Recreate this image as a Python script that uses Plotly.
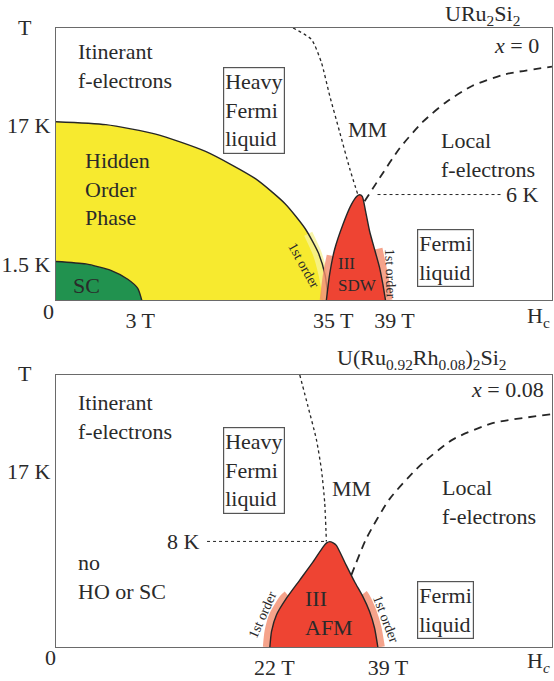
import plotly.graph_objects as go

# schematic phase diagrams, coordinates in arbitrary field / temperature units
X_MAX, Y_MAX = 497.5, 274.5

# ---- x = 0 : URu2Si2 ----
ho_x = [0, 50, 100, 150, 200, 230, 250, 263, 270, 273]
ho_y = [180, 177, 167.5, 150, 122.5, 97, 72, 48, 25, 0]
ho_band_x = [253, 262, 268, 272.5]
ho_band_y = [67, 47, 25, 0]

sc_x = [0, 30, 55, 72, 82, 86]
sc_y = [39, 36.5, 30, 21, 11.8, 0]

sdw_x = [271.2, 274.5, 279.5, 287.8, 296.2, 301.8, 304.5, 307.2, 310.5, 314.5, 319.5, 324.5, 327.8, 330.5]
sdw_y = [0, 26.3, 51.3, 76.3, 96.3, 104.7, 106.3, 104.7, 89.7, 69.7, 51.3, 33, 16.3, 0]
sdw_band_l_x = [268.5, 271.8, 275.5]
sdw_band_l_y = [0, 26, 45]
sdw_band_r_x = [333.5, 330.8, 327.5, 323.5]
sdw_band_r_y = [0, 16, 33, 52]

mm_x = [237.8, 256.2, 266.2, 274.5, 284.5, 294.5, 302.8]
mm_y = [274.5, 263, 239.7, 206.3, 169.7, 133, 106.3]

fl_x = [309.5, 324.5, 344.5, 367.8, 391.2, 417.8, 451.2, 497.5]
fl_y = [99.7, 123, 153, 179.7, 199.7, 216.3, 228, 235.5]

t6_x = [322.5, 446.5]
t6_y = [106.5, 106.5]

xticks_top = [84.5, 278, 339.5]
xlabels_top = ["3 T", "35 T", "39 T"]
yticks_top = [176.5, 36.5]
ylabels_top = ["17 K", "1.5 K"]

# ---- x = 0.08 : U(Ru0.92Rh0.08)2Si2 ----
afm_x = [214.5, 216.2, 221.2, 231.2, 244.5, 257.8, 267.8, 271.5, 274.5, 278, 281.2, 289.5, 299.5, 307.8, 314.5, 319.5, 322.8]
afm_y = [0, 15.8, 32.5, 49.2, 67.5, 85.8, 100.8, 105, 106.3, 105, 102.5, 85.8, 65.8, 50.8, 35.8, 19.2, 0]
afm_band_l_x = [211.5, 213.2, 218, 228, 232]
afm_band_l_y = [0, 15.8, 32.5, 49.2, 53]
afm_band_r_x = [325.8, 322.5, 317.5, 310.8, 308.5]
afm_band_r_y = [0, 19.2, 35.8, 50.8, 54]

mm2_x = [244.5, 252.8, 261.2, 266.2, 269.5, 271.2]
mm2_y = [274.5, 242.5, 209.2, 179.2, 145.8, 106.5]

fl2_x = [296.2, 311.2, 334.5, 364.5, 397.8, 437.8, 497.5]
fl2_y = [72.5, 109.2, 149.2, 182.5, 209.2, 225.8, 234.8]

t8_x = [151.5, 271.2]
t8_y = [106.5, 106.5]

xticks_bot = [219, 333]
xlabels_bot = ["22 T", "39 T"]
yticks_bot = [177.5]
ylabels_bot = ["17 K"]

FONT = "Liberation Serif"
TXT = "#2a2a2a"
LINE = "#262626"
YELLOW = "#f7ea2f"
GREEN = "#21924f"
RED = "#ee4433"
BAND_RED = "rgba(243,140,110,0.8)"
BAND_YEL = "rgba(246,242,150,0.8)"

fig = go.Figure()


def ax(i):
    return ("x", "y") if i == 1 else ("x2", "y2")


def fill(x, y, color, i, mode="tozeroy"):
    xa, ya = ax(i)
    fig.add_trace(go.Scatter(x=x, y=y, mode="lines", fill=mode, fillcolor=color,
                             line=dict(width=0, shape="spline", smoothing=0.6),
                             xaxis=xa, yaxis=ya, hoverinfo="skip"))


def line(x, y, i, color=LINE, width=1.4, dash="solid", shape="spline"):
    xa, ya = ax(i)
    fig.add_trace(go.Scatter(x=x, y=y, mode="lines",
                             line=dict(color=color, width=width, dash=dash, shape=shape, smoothing=0.6),
                             xaxis=xa, yaxis=ya, hoverinfo="skip"))


def label(text, x, y, i, size=22, xanchor="left", angle=0, box=False, outside=False, **kw):
    xa, ya = ax(i)
    if outside:
        # annotations placed off the axis range get hidden, so use domain fractions
        xa, ya = xa + " domain", ya + " domain"
        x, y = x / X_MAX, y / Y_MAX
    extra = dict(bordercolor="#555", borderwidth=1.2, borderpad=1) if box else {}
    fig.add_annotation(text=text, x=x, y=y, xref=xa, yref=ya, showarrow=False,
                       xanchor=xanchor, yanchor="middle", align="left", textangle=angle,
                       font=dict(family=FONT, size=size, color=TXT), **extra, **kw)


# top panel
fill(ho_x, ho_y, YELLOW, 1)
line(ho_band_x, ho_band_y, 1, color=BAND_YEL, width=9)
fill(sc_x, sc_y, GREEN, 1)
line(ho_x, ho_y, 1)
line(sc_x, sc_y, 1)
line(sdw_band_l_x, sdw_band_l_y, 1, color=BAND_RED, width=8)
line(sdw_band_r_x, sdw_band_r_y, 1, color=BAND_RED, width=8)
fill(sdw_x, sdw_y, RED, 1, mode="toself")
line(sdw_x[:-1], sdw_y[:-1], 1)
line(sdw_x[-2:], sdw_y[-2:], 1)
line(mm_x, mm_y, 1, width=1.3, dash="dot")
line(fl_x, fl_y, 1, width=1.8, dash="8px,6px")
line(t6_x, t6_y, 1, width=1, dash="dot", shape="linear")

# bottom panel
line(afm_band_l_x, afm_band_l_y, 2, color=BAND_RED, width=8)
line(afm_band_r_x, afm_band_r_y, 2, color=BAND_RED, width=8)
fill(afm_x, afm_y, RED, 2, mode="toself")
line(afm_x, afm_y, 2)
line(mm2_x, mm2_y, 2, width=1.3, dash="dot")
line(fl2_x, fl2_y, 2, width=1.8, dash="8px,6px")
line(t8_x, t8_y, 2, width=1, dash="dot", shape="linear")

# labels, top
label("Itinerant<br>f-electrons", 20, 236, 1)
label("Heavy<br>Fermi<br>liquid", 198.5, 191, 1, xanchor="center", box=True)
label("Hidden<br>Order<br>Phase", 27, 112, 1)
label("SC", 15, 15, 1)
label("MM", 290.5, 172, 1)
label("Local<br>f-electrons", 384.5, 146.5, 1)
label("<i>x</i> = 0", 486, 257, 1, xanchor="right")
label("URu<sub>2</sub>Si<sub>2</sub>", 428, 288, 1, xanchor="center", outside=True)
label("III<br>SDW", 281, 25.5, 1, size=17)
label("1st order", 248.5, 35, 1, size=14, xanchor="center", angle=61)
label("1st order", 335.5, 26, 1, size=14, xanchor="center", angle=88)
label("Fermi<br>liquid", 390.5, 42, 1, xanchor="center", box=True)
label("6 K", 449.5, 107, 1)
label("0", -7.5, -11.5, 1, xanchor="center", outside=True)
label("T", -31, 275.5, 1, xanchor="center", outside=True)
label("H<sub>c</sub>", 470.5, -17.5, 1, outside=True)

# labels, bottom
label("Itinerant<br>f-electrons", 20, 232.5, 2)
label("Heavy<br>Fermi<br>liquid", 198.5, 178.5, 2, xanchor="center", box=True)
label("no<br>HO or SC", 20, 71, 2)
label("MM", 274.5, 159.5, 2)
label("Local<br>f-electrons", 385.5, 146, 2)
label("<i>x</i> = 0.08", 491.5, 259.5, 2, xanchor="right")
label("U(Ru<sub>0.92</sub>Rh<sub>0.08</sub>)<sub>2</sub>Si<sub>2</sub>", 367.5, 290.5, 2,
      xanchor="center", outside=True)
label("III<br>AFM", 247.5, 34, 2)
label("1st order", 207.5, 32.5, 2, size=14, xanchor="center", angle=-66)
label("1st order", 330.5, 28.5, 2, size=14, xanchor="center", angle=69)
label("Fermi<br>liquid", 390.5, 37, 2, xanchor="center", box=True)
label("8 K", 146.5, 106.5, 2, xanchor="right")
label("0", -5.5, -10.5, 2, xanchor="center", outside=True)
label("T", -31, 275.5, 2, xanchor="center", outside=True)
label("H<sub><i>c</i></sub>", 470.5, -15.5, 2, outside=True)

axis_style = dict(showgrid=False, zeroline=False, showline=True, mirror=True,
                  linecolor="#6a6a6a", linewidth=1.3, ticks="",
                  tickfont=dict(family=FONT, size=22, color=TXT))

fig.update_layout(
    width=554, height=681,
    margin=dict(l=56, r=1, t=28, b=28.5),
    paper_bgcolor="white", plot_bgcolor="white",
    showlegend=False,
    xaxis=dict(range=[0, X_MAX], domain=[0, 1], anchor="y",
               tickvals=xticks_top, ticktext=xlabels_top, **axis_style),
    yaxis=dict(range=[0, Y_MAX], domain=[0.5604, 1], anchor="x",
               tickvals=yticks_top, ticktext=ylabels_top, **axis_style),
    xaxis2=dict(range=[0, X_MAX], domain=[0, 1], anchor="y2",
                tickvals=xticks_bot, ticktext=xlabels_bot, **axis_style),
    yaxis2=dict(range=[0, Y_MAX], domain=[0, 0.4396], anchor="x2",
                tickvals=yticks_bot, ticktext=ylabels_bot, **axis_style),
)

# page body has a default 8px margin; drop it so the figure sits at the window corner
fig.write_html("out.html", config={"displayModeBar": False},
               post_script="document.body.style.margin='0';")
